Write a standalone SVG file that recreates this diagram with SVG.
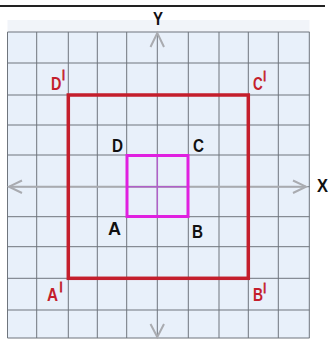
<svg xmlns="http://www.w3.org/2000/svg" width="331" height="343" viewBox="0 0 331 343">
<defs>
<style>
.grid line{stroke:#6f757d;stroke-width:1}
.axis{stroke:#a9abb0;stroke-width:2;fill:none}
.lbl{font-family:"Liberation Sans",Arial,sans-serif;font-weight:bold;font-size:18px}
.pr{font-size:11px;stroke:#c41e2c;stroke-width:0.9}
.red{fill:#c41e2c}
.blk{fill:#111}
</style>
</defs>
<rect width="331" height="343" fill="#fff"/>
<line x1="0" y1="6" x2="325" y2="6" stroke="#222" stroke-width="2"/>
<rect x="7.5" y="20" width="302" height="12" fill="#f1f4f9"/>
<rect x="7.5" y="32" width="302" height="306" fill="#e8f0fa"/>
<g class="grid" id="grid">
<line x1="7.5" y1="32" x2="7.5" y2="338"/>
<line x1="36.7" y1="32" x2="36.7" y2="338"/>
<line x1="68.3" y1="32" x2="68.3" y2="338"/>
<line x1="97.3" y1="32" x2="97.3" y2="338"/>
<line x1="126.7" y1="32" x2="126.7" y2="338"/>
<line x1="157.3" y1="32" x2="157.3" y2="338"/>
<line x1="188.3" y1="32" x2="188.3" y2="338"/>
<line x1="219" y1="32" x2="219" y2="338"/>
<line x1="248.3" y1="32" x2="248.3" y2="338"/>
<line x1="278.3" y1="32" x2="278.3" y2="338"/>
<line x1="309.3" y1="32" x2="309.3" y2="338"/>
<line x1="7.5" y1="32" x2="309.5" y2="32"/>
<line x1="7.5" y1="63" x2="309.5" y2="63"/>
<line x1="7.5" y1="95" x2="309.5" y2="95"/>
<line x1="7.5" y1="125" x2="309.5" y2="125"/>
<line x1="7.5" y1="155" x2="309.5" y2="155"/>
<line x1="7.5" y1="186.7" x2="309.5" y2="186.7"/>
<line x1="7.5" y1="216.7" x2="309.5" y2="216.7"/>
<line x1="7.5" y1="246.7" x2="309.5" y2="246.7"/>
<line x1="7.5" y1="278.3" x2="309.5" y2="278.3"/>
<line x1="7.5" y1="310" x2="309.5" y2="310"/>
<line x1="7.5" y1="338" x2="309.5" y2="338"/>
</g>
<g id="connectors">
<line class="axis" x1="9" y1="186.7" x2="306" y2="186.7"/>
<polyline class="axis" points="150.5,47 157.3,33 164,47" stroke-width="2.5"/>
<polyline class="axis" points="150.5,324 157.3,337 164,324" stroke-width="2.5"/>
<polyline class="axis" points="22,180.5 9,186.7 22,193" stroke-width="2.5"/>
<polyline class="axis" points="293,180.5 306,186.7 293,193" stroke-width="2.5"/>
</g>
<g id="image-square">
<rect x="68.3" y="95" width="180" height="183.3" fill="none" stroke="#c41e2c" stroke-width="3.5"/>
</g>
<g id="original-square">
<line x1="157.3" y1="155" x2="157.3" y2="216.7" stroke="#b060c8" stroke-width="1.5"/>
<line x1="126.7" y1="186.7" x2="188.3" y2="186.7" stroke="#b060c8" stroke-width="1.5"/>
<rect x="127" y="155.5" width="61" height="61" fill="none" stroke="#e020e0" stroke-width="3"/>
</g>
<g id="labels">
<text class="lbl blk" x="153" y="25" textLength="10" lengthAdjust="spacingAndGlyphs">Y</text>
<text class="lbl blk" x="317" y="192" textLength="11" lengthAdjust="spacingAndGlyphs">X</text>
<text class="lbl red" transform="translate(51,90) scale(0.8,1)">D<tspan class="pr" dx="1" dy="-12">|</tspan></text>
<text class="lbl red" transform="translate(253,90) scale(0.75,1)">C<tspan class="pr" dx="1" dy="-11">|</tspan></text>
<text class="lbl red" transform="translate(47,301) scale(0.85,1)">A<tspan class="pr" dx="2" dy="-11">|</tspan></text>
<text class="lbl red" transform="translate(253,301) scale(0.77,1)">B<tspan class="pr" dx="0.5" dy="-10">|</tspan></text>
<text class="lbl blk" x="112" y="152" textLength="11" lengthAdjust="spacingAndGlyphs">D</text>
<text class="lbl blk" x="193" y="152" textLength="11" lengthAdjust="spacingAndGlyphs">C</text>
<text class="lbl blk" x="108" y="235" textLength="13" lengthAdjust="spacingAndGlyphs">A</text>
<text class="lbl blk" x="192" y="238" textLength="11" lengthAdjust="spacingAndGlyphs">B</text>
</g>
</svg>
